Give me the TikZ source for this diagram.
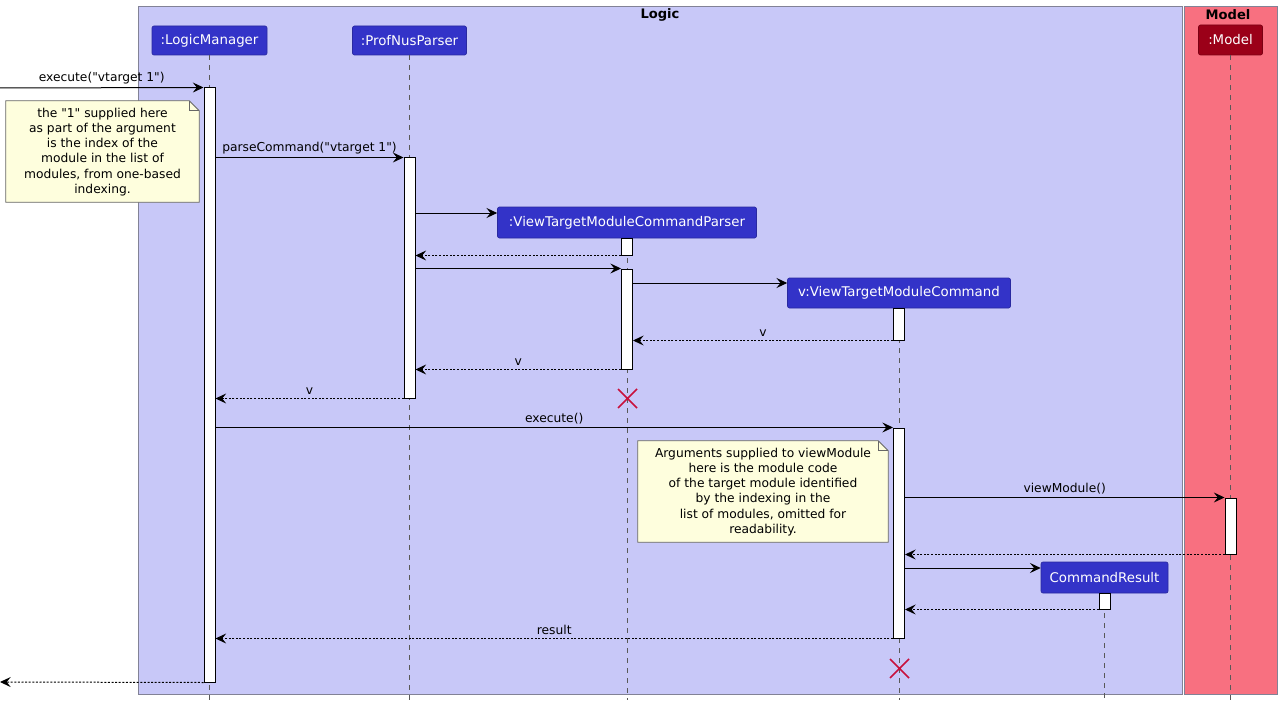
\documentclass[tikz,border=0pt]{standalone}
\usepackage{fontspec}
\setmainfont{DejaVu Sans}[Ligatures=TeXOff]
\usetikzlibrary{arrows.meta}
\definecolor{logicbg}{RGB}{200,200,248}
\definecolor{modelbg}{RGB}{248,112,128}
\definecolor{partblue}{RGB}{51,51,200}
\definecolor{partred}{RGB}{155,0,24}
\definecolor{notebg}{RGB}{254,254,221}
\definecolor{xred}{RGB}{200,16,60}
\definecolor{boxline}{RGB}{130,130,150}
\begin{document}
\begin{tikzpicture}[x=0.75pt,y=-0.75pt,
  part/.style={draw=partblue!80!black, fill=partblue, text=white, rounded corners=1.5pt,
    font=\fontsize{10}{12}\selectfont, inner sep=0pt, line width=0.5pt},
  partm/.style={part, draw=partred!80!black, fill=partred},
  act/.style={draw=black, fill=white, minimum width=8.25pt, inner sep=0pt, line width=0.75pt},
  life/.style={draw=gray!70!black, dash pattern=on 3.75pt off 3.75pt, line width=0.5pt},
  msg/.style={-{Stealth[length=8pt,width=7.5pt,inset=3pt]}, line width=0.75pt},
  ret/.style={msg, dash pattern=on 1.5pt off 1.2pt},
  lbl/.style={font=\fontsize{9.2}{11}\selectfont, inner sep=0pt, midway, above=2.5pt},
  notebox/.style={font=\fontsize{9.2}{11.4}\selectfont, align=center, inner sep=0pt},
  notedraw/.style={draw=gray!80!black, fill=notebg, line width=0.6pt},
  xmark/.style={draw=xred, line width=1.2pt},
  group/.style={draw=boxline, line width=0.6pt},
  gtitle/.style={font=\bfseries\fontsize{9.8}{11}\selectfont, inner sep=0pt}
]
\useasboundingbox (0,0) rectangle (1281,706);

% group boxes
\draw[group, fill=logicbg] (138,6) rectangle (1182,694);
\draw[group, fill=modelbg] (1184,6) rectangle (1277,694);
\node[gtitle] (tlogic) at (660,15) {Logic};
\node[gtitle] (tmodel) at (1228,15) {Model};

\coordinate (bot) at (0,700);

% participants
\node[part, minimum width=86.25pt, minimum height=21.75pt] (lmH) at (209.5,40.5) {:LogicManager};
\node[part, minimum width=85.5pt, minimum height=21.75pt] (pnH) at (409.5,40.5) {:ProfNusParser};
\node[part, minimum width=194.25pt, minimum height=23.25pt] (vpH) at (627,222.5) {:ViewTargetModuleCommandParser};
\node[part, minimum width=167.25pt, minimum height=22.5pt] (vcH) at (899,293) {v:ViewTargetModuleCommand};
\node[part, minimum width=95.25pt, minimum height=23.25pt] (crH) at (1104.5,577.5) {CommandResult};
\node[partm, minimum width=48pt, minimum height=22.5pt] (mdH) at (1230.5,40) {:Model};

% lifelines
\foreach \p in {lmH,pnH,vpH,vcH,crH,mdH}
  \draw[life] (\p.south) -- (\p.south |- bot);

% activations
\node[act, minimum height=445.5pt] (lm1) at (209.5,385) {};
\node[act, minimum height=180pt] (pn1) at (409.5,278) {};
\node[act, minimum height=12.75pt] (vp1) at (627,246.5) {};
\node[act, minimum height=75pt] (vp2) at (627,319) {};
\node[act, minimum height=24pt] (vc1) at (899,324) {};
\node[act, minimum height=157.5pt] (vc2) at (899,533) {};
\node[act, minimum height=42pt] (md1) at (1230.5,526) {};
\node[act, minimum height=12pt] (cr1) at (1104.5,601) {};

% external coordinates
\coordinate (inA) at (0,88);
\coordinate (outA) at (0,682);

% messages
\draw[msg] (inA) -- (lm1.north west) node[lbl] {execute("vtarget 1")};
\draw[msg] (lm1.east |- pn1.north) -- (pn1.north west) node[lbl] {parseCommand("vtarget 1")};
\draw[msg] (pn1.east |- 0,213) -- (vpH.west |- 0,213);
\draw[ret] (vp1.south west) -- (pn1.east |- vp1.south);
\draw[msg] (pn1.east |- vp2.north) -- (vp2.north west);
\draw[msg] (vp2.east |- 0,283) -- (vcH.west |- 0,283);
\draw[ret] (vc1.south west) -- (vp2.east |- vc1.south) node[lbl] {v};
\draw[ret] (vp2.south west) -- (pn1.east |- vp2.south) node[lbl] {v};
\draw[ret] (pn1.south west) -- (lm1.east |- pn1.south) node[lbl] {v};
\draw[msg] (lm1.east |- vc2.north) -- (vc2.north west) node[lbl] {execute()};
\draw[msg] (vc2.east |- md1.north) -- (md1.north west) node[lbl] {viewModule()};
\draw[ret] (md1.south west) -- (vc2.east |- md1.south);
\draw[msg] (vc2.east |- 0,568) -- (crH.west |- 0,568);
\draw[ret] (cr1.south west) -- (vc2.east |- cr1.south);
\draw[ret] (vc2.south west) -- (lm1.east |- vc2.south) node[lbl] {result};
\draw[ret] (lm1.south west) -- (outA);

% destroy marks
\draw[xmark] (618,389) -- (637,408) (637,389) -- (618,408);
\draw[xmark] (890,659) -- (909,678) (909,659) -- (890,678);

% notes
\node[notebox, minimum width=144.75pt, minimum height=75.75pt] (n1) at (102.5,151.5) {};
\draw[notedraw] (n1.north west) -- ([xshift=-7.5pt]n1.north east) -- ([yshift=-7.5pt]n1.north east) -- (n1.south east) -- (n1.south west) -- cycle;
\draw[notedraw, fill=none] ([xshift=-7.5pt]n1.north east) -- ([xshift=-7.5pt,yshift=-7.5pt]n1.north east) -- ([yshift=-7.5pt]n1.north east);
\node[notebox] (n1t) at (102.5,152) {the "1" supplied here\\as part of the argument\\is the index of the\\module in the list of\\modules, from one-based\\indexing.};

\node[notebox, minimum width=187.5pt, minimum height=75.75pt] (n2) at (763,491.5) {};
\draw[notedraw] (n2.north west) -- ([xshift=-7.5pt]n2.north east) -- ([yshift=-7.5pt]n2.north east) -- (n2.south east) -- (n2.south west) -- cycle;
\draw[notedraw, fill=none] ([xshift=-7.5pt]n2.north east) -- ([xshift=-7.5pt,yshift=-7.5pt]n2.north east) -- ([yshift=-7.5pt]n2.north east);
\node[notebox] (n2t) at (763,492) {Arguments supplied to viewModule\\here is the module code\\of the target module identified\\by the indexing in the\\list of modules, omitted for\\readability.};
\end{tikzpicture}
\end{document}
